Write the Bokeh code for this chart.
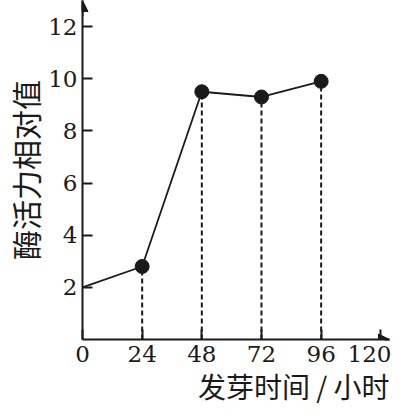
from bokeh.plotting import figure
from bokeh.models import FixedTicker, Range1d, Arrow, NormalHead, ColumnDataSource
from bokeh.embed import file_html
from bokeh.resources import INLINE

# data
hours = [0, 24, 48, 72, 96]
activity = [2, 2.8, 9.5, 9.3, 9.9]
x_ticks = [0, 24, 48, 72, 96, 120]
y_ticks = [2, 4, 6, 8, 10, 12]
x_label = "发芽时间 / 小时"
y_label = "酶活力相对值"

X_END = 123.5
Y_END = 13

p = figure(width=391, height=404, output_backend="svg", toolbar_location=None,
           x_range=Range1d(0, X_END), y_range=Range1d(0, Y_END),
           min_border_left=0, min_border_right=2, min_border_top=0, min_border_bottom=0)
p.outline_line_color = None
p.grid.grid_line_color = None
p.background_fill_color = "white"

ink = "#1a1a1a"
num_font = "DejaVu Serif"
cjk_font = "Noto Sans CJK SC"

for ax in (p.xaxis[0], p.yaxis[0]):
    ax.axis_line_color = ink
    ax.axis_line_width = 2
    ax.major_tick_line_color = ink
    ax.major_tick_line_width = 2
    ax.major_tick_in = 10
    ax.major_tick_out = 0
    ax.minor_tick_line_color = None
    ax.major_label_text_font = num_font
    ax.major_label_text_font_size = "23px"
    ax.major_label_text_color = ink

p.xaxis.ticker = FixedTicker(ticks=x_ticks)
p.yaxis.ticker = FixedTicker(ticks=y_ticks)
p.xaxis.major_label_standoff = 6
p.yaxis.major_label_standoff = 5

p.yaxis.axis_label = y_label
p.yaxis.axis_label_text_font = cjk_font
p.yaxis.axis_label_text_font_size = "30px"
p.yaxis.axis_label_text_font_style = "normal"
p.yaxis.axis_label_text_color = ink
p.yaxis.axis_label_standoff = -2

p.title.text = x_label
p.title_location = "below"
p.title.align = "right"
p.title.text_font = cjk_font
p.title.text_font_size = "28px"
p.title.text_font_style = "normal"
p.title.text_color = ink
p.title.standoff = -2

src = ColumnDataSource(dict(x=hours[1:], y=activity[1:], y0=[0] * (len(hours) - 1)))

p.segment(x0="x", y0="y0", x1="x", y1="y", source=src, line_color=ink,
          line_width=2, line_dash="5 3")
p.line(hours, activity, line_color=ink, line_width=1.8)
p.scatter(x="x", y="y", source=src, size=14, fill_color=ink, line_color=ink)

head = dict(size=11, fill_color=ink, line_color=ink, line_width=1)
p.add_layout(Arrow(end=NormalHead(**head), x_start=0, y_start=Y_END - 0.6,
                   x_end=0, y_end=Y_END, line_color=ink, line_width=2))
p.add_layout(Arrow(end=NormalHead(**head), x_start=X_END - 2, y_start=0,
                   x_end=X_END, y_end=0, line_color=ink, line_width=2))

open("out.html", "w").write(file_html(p, INLINE))
